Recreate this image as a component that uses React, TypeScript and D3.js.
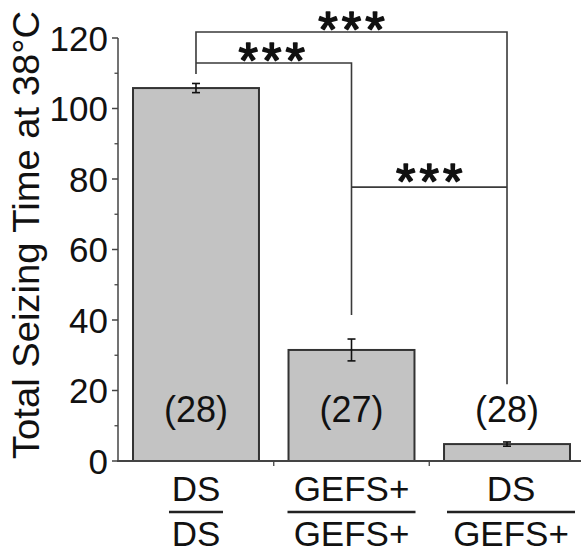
import React from "react";
import * as d3 from "d3";

const categoriesTop = ["DS", "GEFS+", "DS"];
const categoriesBottom = ["DS", "GEFS+", "GEFS+"];
const means = [105.8, 31.5, 4.8];
const errors = [1.3, 3.1, 0.6];
const nLabels = ["(28)", "(27)", "(28)"];
const yTicks = [0, 20, 40, 60, 80, 100, 120];
const yMinorTicks = [10, 30, 50, 70, 90, 110];
const sigLabels = ["***", "***", "***"];

const W = 581;
const H = 554;
const FONT = "'Liberation Sans', Arial, Helvetica, sans-serif";

export default function App() {
  const x = d3
    .scaleBand<number>()
    .domain(means.map((_, i) => i))
    .range([118, 585])
    .paddingInner(0.19)
    .paddingOuter(0.0965);
  const y = d3.scaleLinear().domain([0, 120]).range([461, 38]);
  const bw = x.bandwidth();
  const cx = (i: number) => (x(i) as number) + bw / 2;

  const axisColor = "#444";
  const lineColor = "#3a3a3a";

  // bracket levels (in data units)
  const topLevel = 121.7;
  const midLevel = 112.9;
  const lowLevel = 77.7;
  const leftDrop = 109.8;
  const bar2Drop = 41.4;
  const bar3Drop = 21.8;

  const boundaries = [1, 2].map((i) => (x(i) as number) - (x.step() * x.paddingInner()) / 2);
  const starSize = 50;

  return (
    <svg
      width={W}
      height={H}
      style={{ position: "absolute", left: 0, top: 0, background: "#fff" }}
      fontFamily={FONT}
    >
      {/* bars */}
      {means.map((m, i) => (
        <rect
          key={"b" + i}
          x={x(i)}
          y={y(m)}
          width={bw}
          height={y(0) - y(m)}
          fill="#c3c3c3"
          stroke="#333"
          strokeWidth={2}
        />
      ))}
      {/* error bars */}
      {means.map((m, i) => (
        <g key={"e" + i} stroke="#111" strokeWidth={1.6}>
          <line x1={cx(i)} x2={cx(i)} y1={y(m + errors[i])} y2={y(m - errors[i])} />
          <line x1={cx(i) - 4} x2={cx(i) + 4} y1={y(m + errors[i])} y2={y(m + errors[i])} />
          <line x1={cx(i) - 4} x2={cx(i) + 4} y1={y(m - errors[i])} y2={y(m - errors[i])} />
        </g>
      ))}
      {/* n labels */}
      {nLabels.map((t, i) => (
        <text
          key={"n" + i}
          x={cx(i)}
          y={422}
          textAnchor="middle"
          fontSize={36}
          fill="#111"
        >
          {t}
        </text>
      ))}
      {/* y axis */}
      <line x1={118} x2={118} y1={y(120)} y2={y(0)} stroke={axisColor} strokeWidth={1.5} />
      {yTicks.map((t) => (
        <g key={"t" + t}>
          <line x1={112} x2={118} y1={y(t)} y2={y(t)} stroke={axisColor} strokeWidth={1.5} />
          <text
            x={108}
            y={y(t)}
            dy="0.36em"
            textAnchor="end"
            fontSize={35}
            fill="#111"
          >
            {t}
          </text>
        </g>
      ))}
      {yMinorTicks.map((t) => (
        <line key={"m" + t} x1={114.5} x2={118} y1={y(t)} y2={y(t)} stroke={axisColor} strokeWidth={1.3} />
      ))}
      {/* x axis */}
      <line x1={117} x2={581} y1={y(0)} y2={y(0)} stroke={axisColor} strokeWidth={1.8} />
      {boundaries.map((b, i) => (
        <line key={"xb" + i} x1={b} x2={b} y1={y(0)} y2={y(0) + 5} stroke={axisColor} strokeWidth={1.3} />
      ))}
      {/* y label */}
      <text
        transform={`translate(39,235) rotate(-90)`}
        textAnchor="middle"
        fontSize={36}
        textLength={448}
        lengthAdjust="spacingAndGlyphs"
        fill="#111"
      >
        Total Seizing Time at 38°C
      </text>
      {/* category labels */}
      {categoriesTop.map((t, i) => {
        const c = cx(i) + (i === 2 ? 4 : 0);
        const wide = categoriesTop[i].length > 2 || categoriesBottom[i].length > 2;
        const half = wide ? 64 : 27;
        return (
          <g key={"c" + i}>
            <text x={c} y={501} textAnchor="middle" fontSize={35} fill="#111">
              {t}
            </text>
            <line x1={c - half} x2={c + half} y1={512} y2={512} stroke="#222" strokeWidth={2.5} />
            <text x={c} y={546} textAnchor="middle" fontSize={35} fill="#111">
              {categoriesBottom[i]}
            </text>
          </g>
        );
      })}
      {/* significance brackets */}
      <g stroke={lineColor} strokeWidth={1.6} fill="none">
        <polyline
          points={`${cx(0)},${y(leftDrop)} ${cx(0)},${y(topLevel)} ${cx(2)},${y(topLevel)} ${cx(2)},${y(bar3Drop)}`}
        />
        <polyline
          points={`${cx(0)},${y(midLevel)} ${cx(1)},${y(midLevel)} ${cx(1)},${y(bar2Drop)}`}
        />
        <line x1={cx(1)} x2={cx(2)} y1={y(lowLevel)} y2={y(lowLevel)} />
      </g>
      {[
        { x: (cx(0) + cx(2)) / 2, top: 11 },
        { x: (cx(0) + cx(1)) / 2 - 2, top: 42 },
        { x: (cx(1) + cx(2)) / 2, top: 163 },
      ].map((s, i) => (
        <text
          key={"s" + i}
          x={s.x + 2}
          y={s.top + starSize * 0.716}
          textAnchor="middle"
          fontSize={starSize}
          letterSpacing={4}
          fill="#111"
          stroke="#111"
          strokeWidth={1.6}
          strokeLinejoin="round"
        >
          {sigLabels[i]}
        </text>
      ))}
    </svg>
  );
}
